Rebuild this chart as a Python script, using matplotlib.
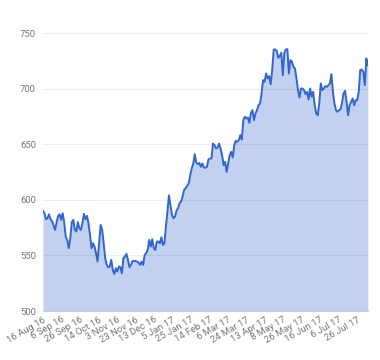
import numpy as np
import matplotlib
matplotlib.use('Agg')
import matplotlib.pyplot as plt

# Closing prices (Aug 2016 - Aug 2017)
price = [
    590, 588, 582.6, 583.5, 587, 582.6, 581, 577, 573, 580, 585.6, 587, 582, 588, 580,
    567, 564, 556.5, 565, 580, 582, 573, 571.5, 580, 574.5, 573, 579, 587.4, 582.6,
    585.6, 579, 568.5, 556.5, 561, 558, 552, 544.5, 561, 577.5, 573, 561, 547.5, 541.5,
    539.4, 540, 546, 537, 533.4, 538.5, 535.5, 540, 539.4, 534, 547.5, 549, 551.4, 546,
    539.4, 541.5, 545, 545, 545, 544.5, 543.6, 541.5, 544.5, 541.5, 550.5, 552, 555, 564,
    558, 564.6, 556.5, 555, 562.5, 562.5, 561, 566.4, 559.5, 561, 576, 589.5, 604,
    595.5, 586.5, 583.5, 585, 590.4, 592.5, 597, 598.5, 603, 609, 610.5, 612.6,
    614.7, 622.2, 628.2, 632.7, 641.1, 633.3, 632.1, 633.3, 629.7, 632.7, 629.1, 628.8,
    629.7, 636.3, 637.2, 637.2, 650.7, 649.2, 646.2, 647.1, 650.7, 646.2, 640.2, 631.2,
    634.2, 625.2, 632.7, 640.2, 643.2, 638.1, 649.2, 653.1, 652.2, 653.7, 658.2, 654.3,
    671.7, 674.7, 673.2, 674.1, 669.3, 678.3, 680.7, 671.7, 677.7, 680.7, 685.2, 686.7,
    695.7, 707.7, 706.2, 713.7, 709.2, 711.3, 704.1, 716.7, 735.3, 735.3, 734.1, 727.8,
    729.3, 732.3, 712.1, 732.3, 735.3, 735.6, 713.7, 725.7, 724.2, 719.7, 718.2, 709.2,
    698.7, 692.1, 700.2, 700.2, 698.7, 695.1, 697.2, 690.3, 700.2, 692.7, 697.2, 685.2,
    677.7, 676.2, 686.7, 704.7, 698.7, 700.2, 702.3, 701.7, 703.2, 704.7, 713.1, 697.2,
    686.7, 680.7, 679.2, 680.7, 681.3, 687.3, 695.7, 698.1, 688.2, 676.2, 685.2, 688.2,
    691.2, 685.2, 689.7, 689.7, 697.2, 716.7, 717.3, 715.2, 703.2, 727.2, 721.2,
]

date_labels = ['16 Aug 16', '6 Sep 16', '26 Sep 16', '14 Oct 16', '3 Nov 16', '23 Nov 16',
               '13 Dec 16', '5 Jan 17', '25 Jan 17', '14 Feb 17', '6 Mar 17', '24 Mar 17',
               '13 Apr 17', '8 May 17', '26 May 17', '16 Jun 17', '6 Jul 17', '26 Jul 17']

plt.rcParams['font.family'] = ['Roboto', 'DejaVu Sans']

fig = plt.figure(figsize=(3.8, 3.6), dpi=100)
ax = fig.add_axes([0.113, 0.136, 0.855, 0.772])

x = np.arange(len(price))
ax.fill_between(x, 500, price, color='#c2d1f0', linewidth=0, zorder=1)
ax.plot(x, price, color='#3366cc', linewidth=1.4, zorder=3)

ax.set_xlim(0, len(price) - 1)
ax.set_ylim(500, 750)
ax.set_yticks([500, 550, 600, 650, 700, 750])

# one label every 14 trading days, ~246 trading days in the series
tick_pos = [14 * k * (len(price) - 1) / 246 for k in range(len(date_labels))]
ax.set_xticks(tick_pos)
ax.set_xticklabels(date_labels, rotation=30, ha='right', rotation_mode='anchor')

ax.tick_params(axis='both', length=0, colors='#757575', labelsize=6.8)
ax.tick_params(axis='y', pad=5)
ax.tick_params(axis='x', pad=3)
# faint grid, visible on top of the fill as in the original
ax.grid(axis='y', color='black', alpha=0.07, linewidth=0.8, zorder=2)
ax.set_axisbelow(False)
for s in ['top', 'right', 'left']:
    ax.spines[s].set_visible(False)
ax.spines['bottom'].set_color('#cccccc')

fig.savefig('out.png', dpi=100)
